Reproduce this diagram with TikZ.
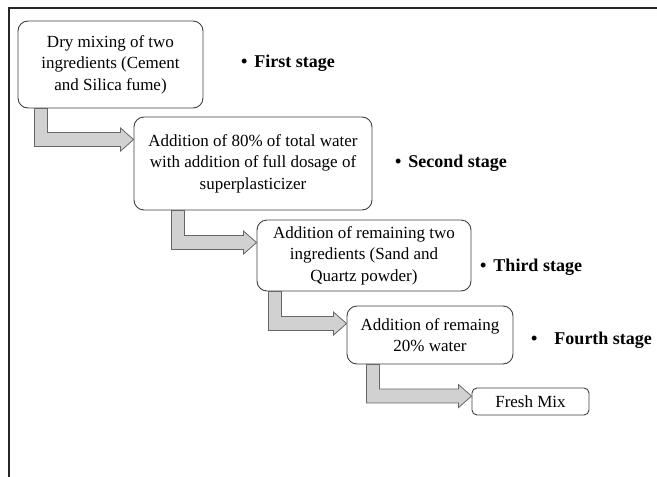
\documentclass[tikz,border=0pt]{standalone}
\usepackage{fontspec}
\setmainfont{Liberation Serif}
\usetikzlibrary{positioning, calc}

\tikzset{
  stepbox/.style={draw=black!75, line width=0.9pt, rounded corners=10pt, align=center,
    inner sep=0pt, fill=white, font=\fontsize{17}{21.5}\selectfont},
  stagelabel/.style={anchor=west, inner sep=0pt, font=\fontsize{18}{21}\selectfont\bfseries},
  flowarrow/.style={fill=black!18, draw=black!60, line width=0.8pt},
}

% elbow arrow: from box, to box, shaft offset, tip offset below top of target
\newcommand{\elbowarrow}[4]{%
  \path[flowarrow] let \p1=(#1.south west), \p2=(#2.north west) in
    (\x1+#3pt,\y1) -- (\x1+#3pt,\y2-#4pt-7pt) -- (\x2-13pt,\y2-#4pt-7pt)
    -- (\x2-13pt,\y2-#4pt-11.5pt) -- (\x2,\y2-#4pt) -- (\x2-13pt,\y2-#4pt+11.5pt)
    -- (\x2-13pt,\y2-#4pt+7pt) -- (\x1+#3pt+13pt,\y2-#4pt+7pt) -- (\x1+#3pt+13pt,\y1) -- cycle;}

\begin{document}
\begin{tikzpicture}[x=1pt, y=1pt]
	\useasboundingbox (0,0) rectangle (657,-477);
	\draw[line width=1.6pt, black!85] (9,-477) -- (9,-8) -- (657,-8);

	\node[stepbox, minimum width=185pt, minimum height=87pt] (dry) at (110.5,-64.5)
		{Dry mixing of two\\ingredients (Cement\\and Silica fume)};
	\node[stepbox, minimum width=238pt, minimum height=93pt] (water) at (253,-163.5)
		{Addition of 80\% of total water\\with addition of full dosage of\\superplasticizer};
	\node[stepbox, minimum width=214pt, minimum height=71pt] (sand) at (364,-255.5)
		{Addition of remaining two\\ingredients (Sand and\\Quartz powder)};
	\node[stepbox, minimum width=166pt, minimum height=58pt] (rest) at (430,-335)
		{Addition of remaing\\20\% water};
	\node[stepbox, rounded corners=5pt, minimum width=117pt, minimum height=27pt] (fresh) at (530.5,-401.5)
		{Fresh Mix};

	\node[stagelabel] (s1) at (241,-63) {\textbullet\hspace{7pt}First stage};
	\node[stagelabel] (s2) at (395,-163) {\textbullet\hspace{7pt}Second stage};
	\node[stagelabel] (s3) at (480,-267) {\textbullet\hspace{7pt}Third stage};
	\node[stagelabel] (s4) at (531,-340) {\textbullet\hspace{17pt}Fourth stage};

	\elbowarrow{dry}{water}{17}{23}
	\elbowarrow{water}{sand}{38}{23}
	\elbowarrow{sand}{rest}{12}{18}
	\elbowarrow{rest}{fresh}{20}{8.5}
\end{tikzpicture}
\end{document}
